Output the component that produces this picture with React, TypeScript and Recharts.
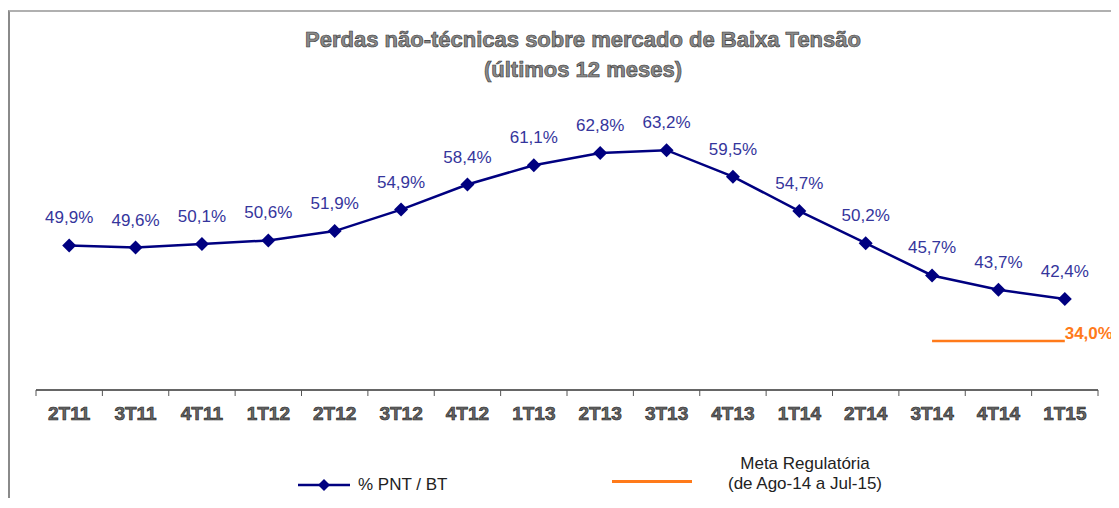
import { LineChart, Line, XAxis, YAxis } from "recharts"

const quarters = ["2T11", "3T11", "4T11", "1T12", "2T12", "3T12", "4T12", "1T13", "2T13", "3T13", "4T13", "1T14", "2T14", "3T14", "4T14", "1T15"]
const pntBt = [49.9, 49.6, 50.1, 50.6, 51.9, 54.9, 58.4, 61.1, 62.8, 63.2, 59.5, 54.7, 50.2, 45.7, 43.7, 42.4]
const metaRegulatoria = [null, null, null, null, null, null, null, null, null, null, null, null, null, 34.0, 34.0, 34.0]

const data = quarters.map((q, i) => ({ name: q, pnt: pntBt[i], meta: metaRegulatoria[i] }))

const NAVY = "#000080"
const LABEL_BLUE = "#35359c"
const ORANGE = "#ff7a1a"
const BAND = 1062 / quarters.length

const fmt = (v: number) => v.toFixed(1).replace(".", ",") + "%"

function Diamond(props: any) {
  const { cx, cy, index } = props
  if (cx == null || cy == null) return <g key={index} />
  const r = 7
  return <path key={index} d={`M${cx},${cy - r}L${cx + r},${cy}L${cx},${cy + r}L${cx - r},${cy}Z`} fill={NAVY} />
}

function QuarterTick(props: any) {
  const { x, y, payload, index } = props
  const left = x - BAND / 2
  return (
    <g>
      <line x1={left} y1={y} x2={left} y2={y + 6} stroke="#555" strokeWidth={1} />
      {index === quarters.length - 1 && (
        <line x1={x + BAND / 2} y1={y} x2={x + BAND / 2} y2={y + 6} stroke="#555" strokeWidth={1} />
      )}
      <text x={x} y={y + 30} textAnchor="middle" fontFamily="Arial, Liberation Sans" fontWeight="bold" fontSize={19} fill="#666" stroke="#222" strokeWidth={0.6}>
        {payload.value}
      </text>
    </g>
  )
}

function MetaLabel(props: any) {
  const { x, y, index } = props
  if (index !== quarters.length - 1) return <g />
  return (
    <text x={x + 24} y={y - 2} textAnchor="middle" fontFamily="Arial, Liberation Sans" fontWeight="bold" fontSize={17} fill={ORANGE}>
      {fmt(metaRegulatoria[index] as number)}
    </text>
  )
}

function PntLabel(props: any) {
  const { x, y, value } = props
  return (
    <text x={x} y={y - 22} textAnchor="middle" fontFamily="Arial, Liberation Sans" fontSize={17} fill={LABEL_BLUE}>
      {fmt(value)}
    </text>
  )
}

export default function App() {
  return (
    <div
      style={{
        position: "relative",
        top: 2,
        width: 1109,
        height: 490,
        borderTop: "2px solid #b0b0b0",
        borderLeft: "2px solid #8a8a8a",
        boxSizing: "border-box",
        fontFamily: "Arial, 'Liberation Sans', sans-serif",
      }}
    >
      <div
        style={{
          position: "absolute",
          left: 273,
          top: 13,
          width: 600,
          textAlign: "center",
          fontSize: 22,
          lineHeight: "30px",
          fontWeight: "bold",
          color: "#8a8a8a",
          WebkitTextStroke: "0.6px #333",
        }}
      >
        Perdas não-técnicas sobre mercado de Baixa Tensão
        <br />
        (últimos 12 meses)
      </div>
      <div style={{ position: "absolute", left: 0, top: 0 }}>
        <LineChart width={1107} height={488} data={data} margin={{ top: 89.5, right: 19, left: 26, bottom: 70 }}>
          <XAxis
            dataKey="name"
            height={40}
            padding={{ left: BAND / 2, right: BAND / 2 }}
            tickLine={false}
            tickSize={0}
            tickMargin={0}
            axisLine={{ stroke: "#666", strokeWidth: 2 }}
            tick={<QuarterTick />}
            interval={0}
          />
          <YAxis yAxisId="left" hide domain={[29.7, 70]} />
          <YAxis yAxisId="right" hide domain={[27.16, 67.46]} />
          <Line
            yAxisId="left"
            dataKey="pnt"
            stroke={NAVY}
            strokeWidth={2.5}
            dot={<Diamond />}
            activeDot={false}
            label={<PntLabel />}
            isAnimationActive={false}
          />
          <Line
            yAxisId="right"
            dataKey="meta"
            stroke={ORANGE}
            strokeWidth={2.5}
            dot={false}
            activeDot={false}
            label={<MetaLabel />}
            isAnimationActive={false}
          />
        </LineChart>
      </div>
      <svg style={{ position: "absolute", left: 288, top: 465 }} width={54} height={16}>
        <line x1={0} y1={8} x2={52} y2={8} stroke={NAVY} strokeWidth={2.5} />
        <path d="M26,2L32,8L26,14L20,8Z" fill={NAVY} />
      </svg>
      <div style={{ position: "absolute", left: 348, top: 463, fontSize: 17, lineHeight: "20px", color: "#222" }}>% PNT / BT</div>
      <div style={{ position: "absolute", left: 602, top: 468, width: 80, height: 3, background: ORANGE }} />
      <div
        style={{
          position: "absolute",
          left: 695,
          top: 442,
          width: 200,
          textAlign: "center",
          fontSize: 17,
          lineHeight: "20px",
          color: "#222",
        }}
      >
        Meta Regulatória
        <br />
        (de Ago-14 a Jul-15)
      </div>
    </div>
  )
}
